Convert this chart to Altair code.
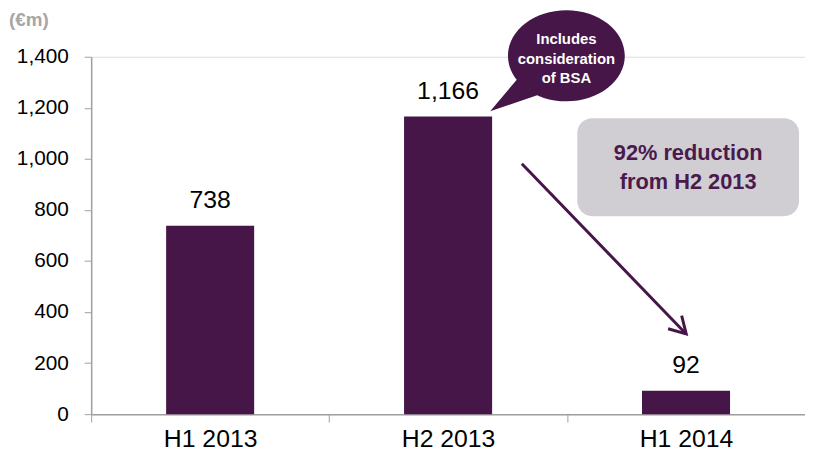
import altair as alt
import pandas as pd

# ---- data ----
categories = ["H1 2013", "H2 2013", "H1 2014"]
values = [738, 1166, 92]
y_ticks = [0, 200, 400, 600, 800, 1000, 1200, 1400]
unit_label = "(€m)"
bubble_lines = ["Includes", "consideration", "of BSA"]
box_lines = ["92% reduction", "from H2 2013"]

PURPLE = "#461649"
TEXT_PURPLE = "#4A1A4D"
BOX_GRAY = "#D0CED3"
AXIS_GRAY = "#A0A0A0"
FONT = "Liberation Sans"

df = pd.DataFrame({"period": categories, "value": values})
one = pd.DataFrame({"k": [0]})

x_enc = alt.X(
    "period:N",
    sort=categories,
    scale=alt.Scale(paddingInner=0, paddingOuter=0),
    axis=alt.Axis(
        title=None, labelAngle=0, labelFontSize=25, labelColor="black",
        labelFont=FONT, domainColor=AXIS_GRAY, tickColor=AXIS_GRAY,
        tickSize=8, tickBand="extent", labelPadding=5, domainWidth=1.5,
    ),
)
y_enc = alt.Y(
    "value:Q",
    scale=alt.Scale(domain=[0, 1400], nice=False),
    axis=alt.Axis(
        title=None, values=y_ticks, format=",.0f", labelFontSize=21,
        labelColor="black", labelFont=FONT, grid=False,
        domainColor=AXIS_GRAY, tickColor=AXIS_GRAY, tickSize=7,
        labelPadding=16, domainWidth=1.5,
    ),
)

bars = alt.Chart(df).mark_bar(
    color=PURPLE, width=alt.RelativeBandSize(0.37)
).encode(x=x_enc, y=y_enc)

labels = alt.Chart(df).mark_text(
    dy=-18, baseline="alphabetic", fontSize=25, font=FONT, color="black"
).encode(
    x=alt.X("period:N", sort=categories),
    y="value:Q",
    text=alt.Text("value:Q", format=",.0f"),
)

# unit title
unit = alt.Chart(one).mark_text(
    text=unit_label, align="left", baseline="top", fontSize=19,
    fontWeight="bold", font=FONT, color="#A6A6A6"
).encode(x=alt.value(-83), y=alt.value(-46))

# speech bubble
b = 0.78
kb = round(0.5523 * b, 4)
bubble_path = (
    f"M 1 0 C 1 {kb} 0.5523 {b} 0 {b} C -0.5523 {b} -1 {kb} -1 0 "
    f"C -1 {-kb} -0.5523 {-b} 0 {-b} C 0.5523 {-b} 1 {-kb} 1 0 Z "
    "M -0.85 0.411 L -0.5 0.675 L -1.305 0.95 Z"
)
bubble = alt.Chart(one).mark_point(
    shape=bubble_path, size=(2 * 59) ** 2, filled=True, fill=PURPLE,
    opacity=1, strokeWidth=0
).encode(x=alt.value(480), y=alt.value(-1))

bubble_text_layers = []
for line, yy in zip(bubble_lines, [-18, 2, 22]):
    bubble_text_layers.append(
        alt.Chart(one).mark_text(
            text=line, align="center", baseline="middle", fontSize=15,
            fontWeight="bold", font=FONT, color="white"
        ).encode(x=alt.value(480), y=alt.value(yy))
    )

# gray box
box = alt.Chart(one).mark_rect(
    color=BOX_GRAY, cornerRadius=15
).encode(x=alt.value(491), x2=alt.value(715), y=alt.value(62), y2=alt.value(161))

box_text_layers = []
for line, yy in zip(box_lines, [97, 127]):
    box_text_layers.append(
        alt.Chart(one).mark_text(
            text=line, align="center", baseline="middle", fontSize=22,
            fontWeight="bold", font=FONT, color=TEXT_PURPLE
        ).encode(x=alt.value(603), y=alt.value(yy))
    )

# arrow
arrow_line = alt.Chart(one).mark_rule(
    color=PURPLE, strokeWidth=3
).encode(x=alt.value(435), y=alt.value(108), x2=alt.value(601), y2=alt.value(280))

arrow_head = alt.Chart(one).mark_point(
    shape="M -0.5 0.866 L 0 0 L 0.5 0.866", size=(2 * 19) ** 2,
    filled=False, stroke=PURPLE, strokeWidth=3, opacity=1, angle=136
).encode(x=alt.value(601), y=alt.value(280))

chart = alt.layer(
    bars, labels, unit, box, *box_text_layers, arrow_line, arrow_head,
    bubble, *bubble_text_layers
).properties(
    width=721, height=361,
    autosize=alt.AutoSizeParams(type="none"),
    padding={"left": 84, "top": 47, "right": 0, "bottom": 38},
).configure_view(stroke=None).configure(font=FONT)

chart.save("out.html", embed_options={"renderer": "svg", "actions": False})
